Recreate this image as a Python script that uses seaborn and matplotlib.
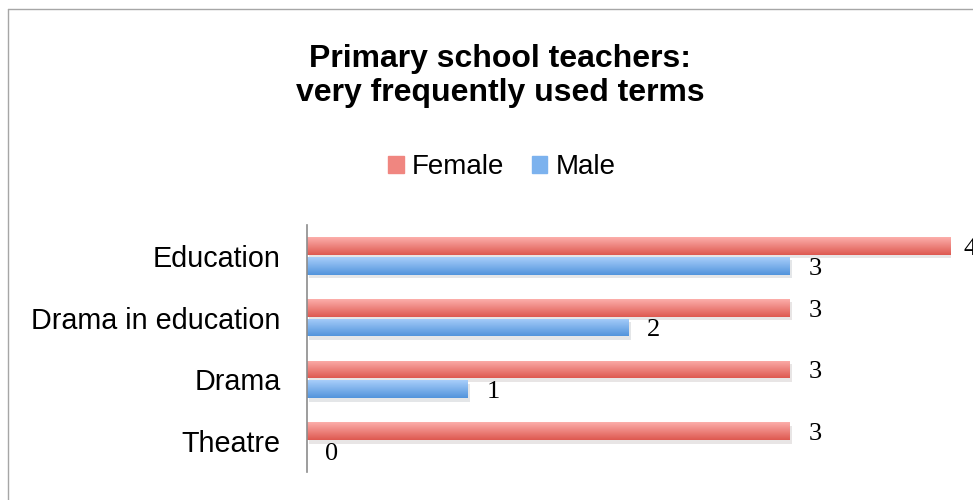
import numpy as np
import pandas as pd
import seaborn as sns
import matplotlib.pyplot as plt
from matplotlib.lines import Line2D
from matplotlib.colors import to_rgba
from matplotlib import patheffects as pe

sns.set_style("white")
plt.rcParams['font.family'] = ['Liberation Sans', 'DejaVu Sans']
plt.rcParams['text.color'] = 'black'
plt.rcParams['ytick.color'] = 'black'

# -----------------------------
# DATA
# -----------------------------
terms = ["Education", "Drama in education", "Drama", "Theatre"]
female = [4, 3, 3, 3]
male = [3, 2, 1, 0]
genders = ["Female", "Male"]

df = pd.DataFrame({
    "Term": terms * 2,
    "Gender": ["Female"] * len(terms) + ["Male"] * len(terms),
    "Count": female + male,
})

# colours: (top of bar, bottom of bar)
grad = {
    "Female": ("#fcaeab", "#de5950"),
    "Male": ("#a8cefa", "#5294dc"),
}
mid = {"Female": "#f08680", "Male": "#7cb2ee"}

# -----------------------------
# PLOT
# -----------------------------
fig = plt.figure(figsize=(9.73, 5), dpi=100)
ax = fig.add_axes([307 / 973, 1 - 472 / 500, 644 / 973, 247 / 500])

sns.barplot(data=df, x="Count", y="Term", hue="Gender", order=terms,
            hue_order=genders, palette=mid, orient="h",
            width=0.64, gap=0.1, legend=False, ax=ax)

# gradient fill + soft shadow on each bar
for cont, g in zip(ax.containers, genders):
    top, bot = to_rgba(grad[g][0]), to_rgba(grad[g][1])
    img = np.linspace(top, bot, 64).reshape(64, 1, 4)
    for p in cont:
        p.set_edgecolor("none")
        p.set_path_effects([pe.SimplePatchShadow(offset=(1.5, -2.5), alpha=0.12), pe.Normal()])
        w = p.get_width()
        if w <= 0:
            continue
        y0, h = p.get_y(), p.get_height()
        im = ax.imshow(img, extent=(0, w, y0 + h, y0), aspect="auto",
                       zorder=p.get_zorder() + 0.1, interpolation="bilinear")
        im.set_clip_path(p)

# value labels (the longest one is pulled in a bit, it sits at the edge)
xmax = max(female + male)
for cont in ax.containers:
    for p in cont:
        w = p.get_width()
        if w == xmax:
            off, ha = (9, -2), "left"
        else:
            off, ha = (18, -2), "center"
        ax.annotate(f"{w:g}", xy=(w, p.get_y() + p.get_height() / 2),
                    xytext=off, textcoords="offset points", ha=ha, va="center",
                    fontsize=19, family="Liberation Serif", annotation_clip=False)

ax.set_xlim(0, 4)
ax.set_ylim(3.5, -0.5)
ax.set_xlabel("")
ax.set_ylabel("")
ax.set_xticks([])
ax.tick_params(axis="y", length=0, pad=19, labelsize=20.7)
for s in ["top", "right", "bottom"]:
    ax.spines[s].set_visible(False)
ax.spines["left"].set_color("#8c8c8c")
ax.spines["left"].set_linewidth(1.2)

# title
fig.text(500 / 973, 1 - 76 / 500, "Primary school teachers:\nvery frequently used terms",
         ha="center", va="center", fontsize=23, fontweight="bold", linespacing=1.15)

# legend
handles = [plt.Rectangle((0, 0), 1, 1, color=mid[g]) for g in genders]
fig.legend(handles, genders, loc="center", bbox_to_anchor=(502 / 973, 1 - 167 / 500),
           ncol=2, frameon=False, fontsize=20, handlelength=0.55, handleheight=0.55,
           handletextpad=0.3, columnspacing=1.0)

# chart area border (cropped on right and bottom)
fig.add_artist(Line2D([8 / 973, 8 / 973], [0, 1 - 9 / 500], color="#a6a6a6", lw=1))
fig.add_artist(Line2D([8 / 973, 1], [1 - 9 / 500, 1 - 9 / 500], color="#a6a6a6", lw=1))

plt.savefig("out.png", dpi=100)
